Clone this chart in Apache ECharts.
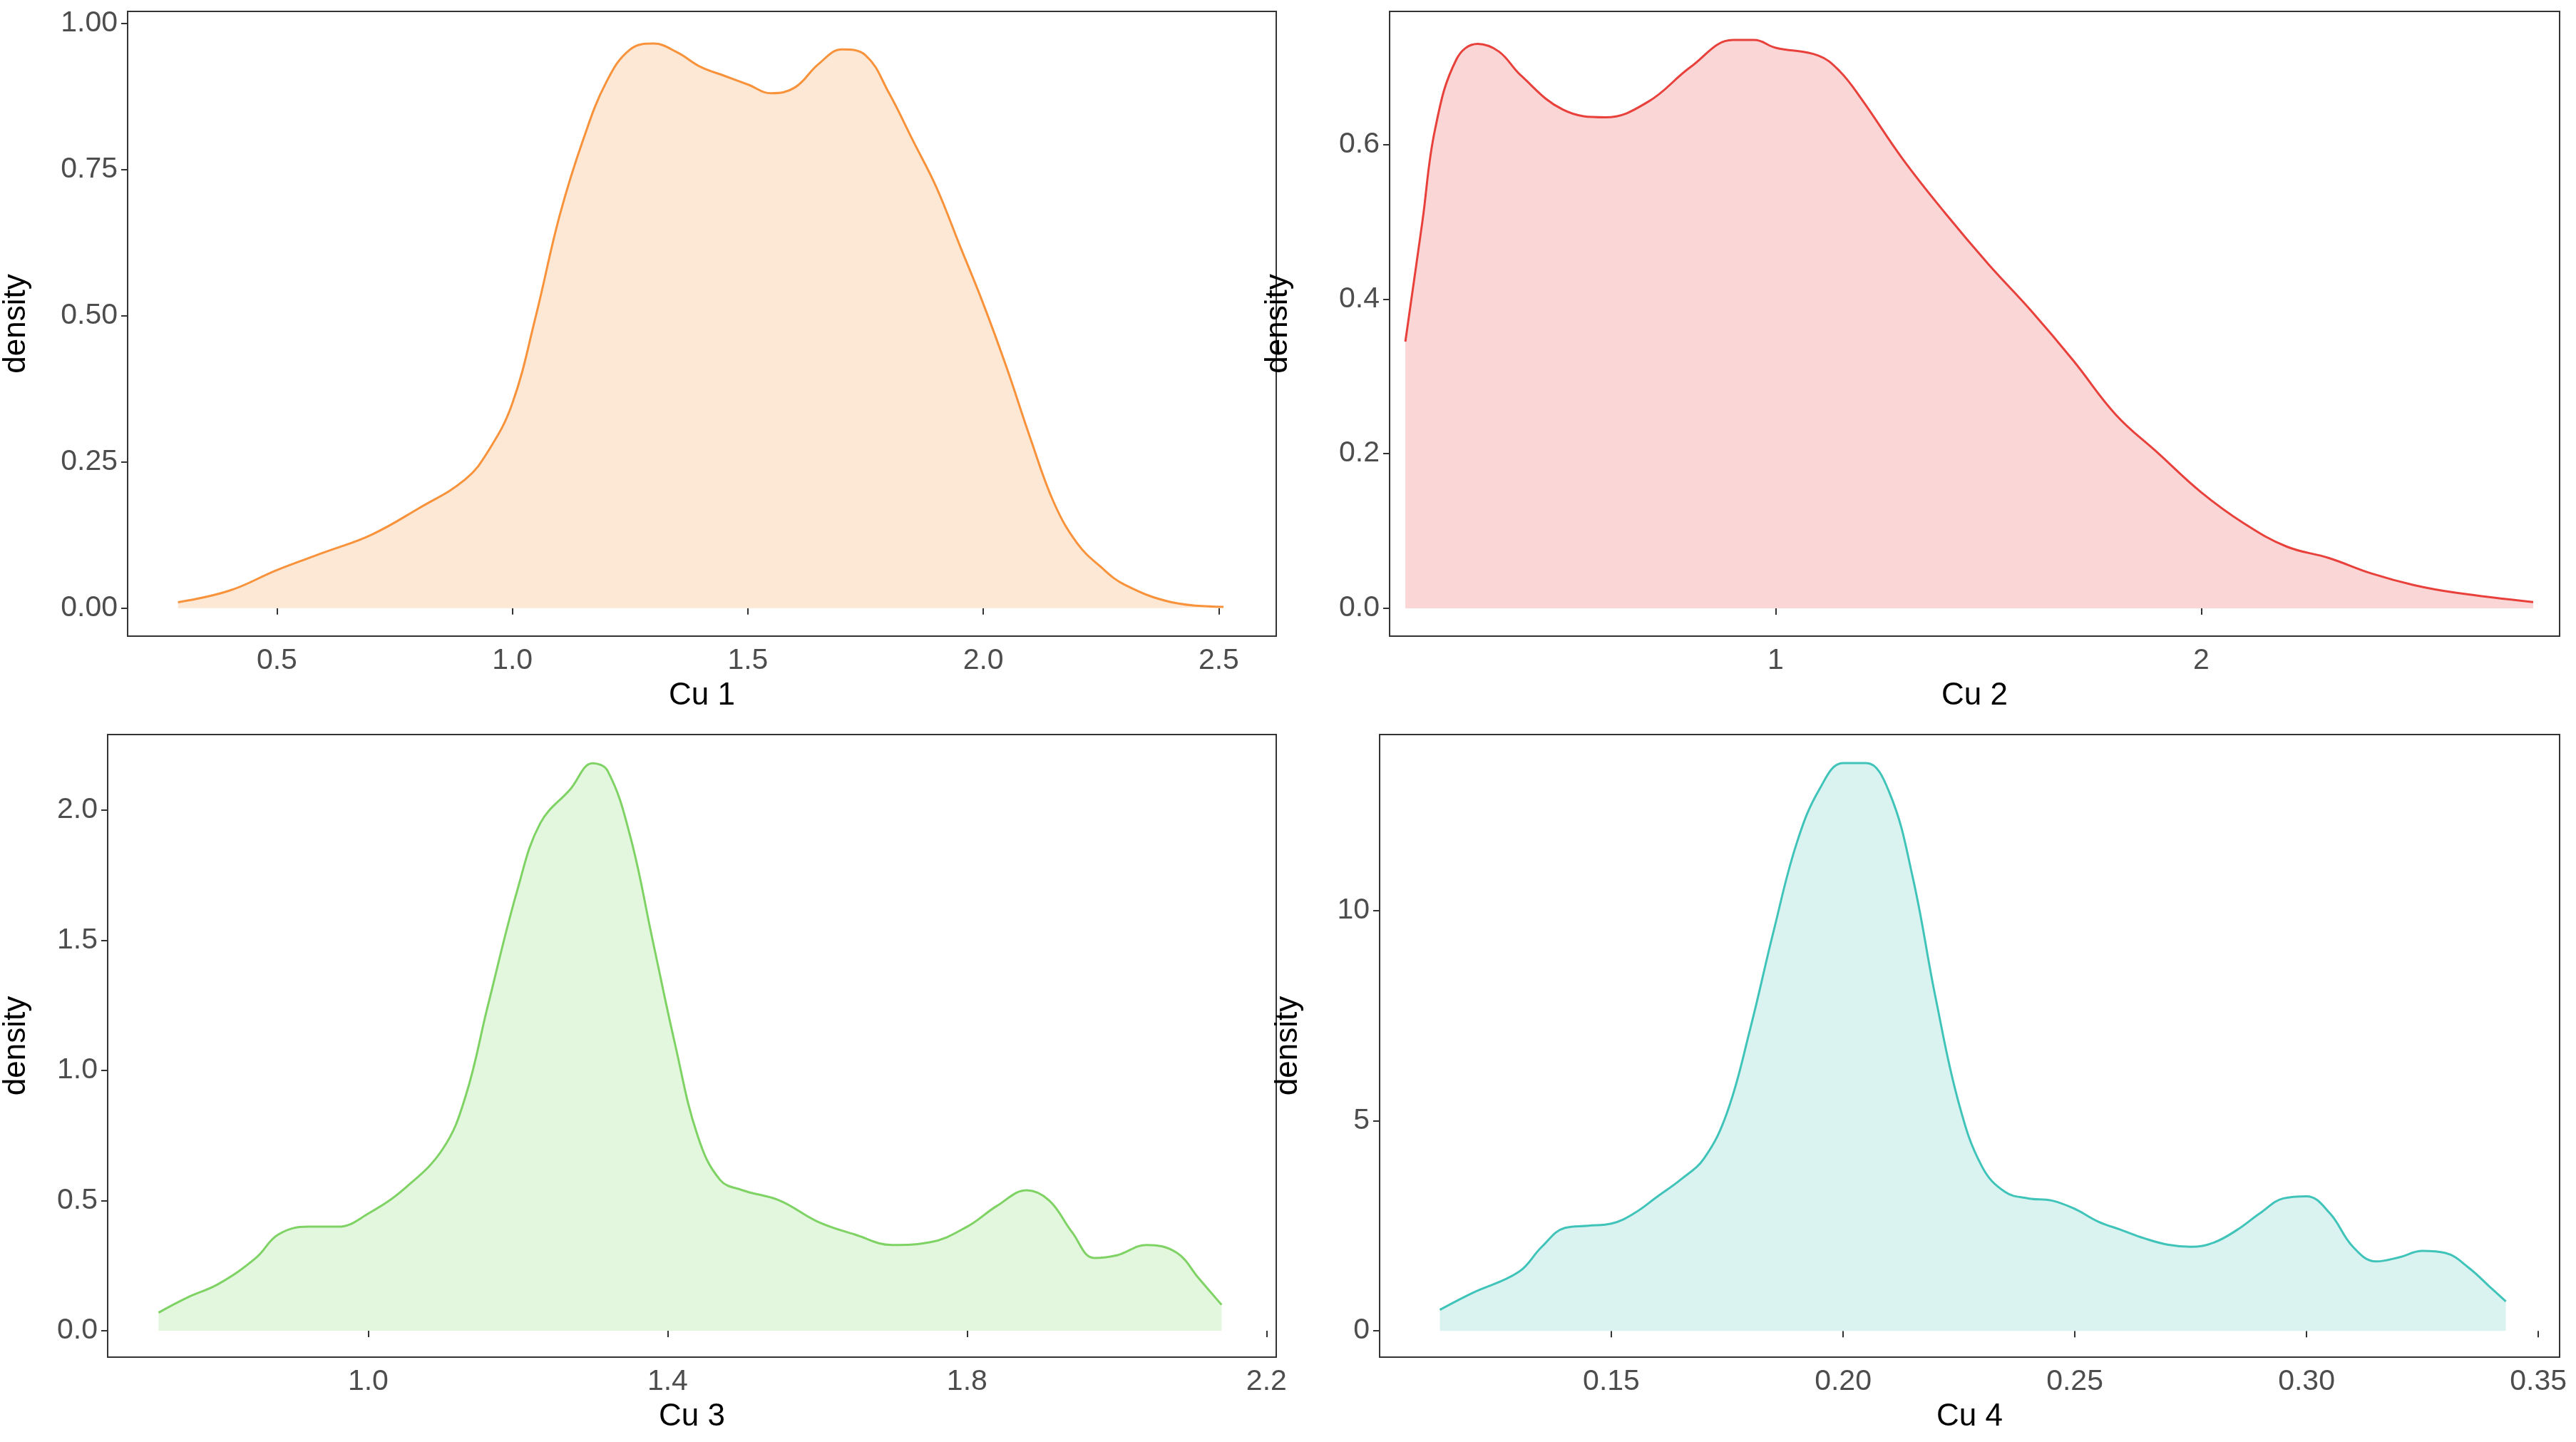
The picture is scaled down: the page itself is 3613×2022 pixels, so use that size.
<!DOCTYPE html>
<html><head><meta charset="utf-8">
<script src="https://cdn.jsdelivr.net/npm/echarts@6/dist/echarts.min.js"></script>
<style>html,body{margin:0;padding:0;background:#fff}#c{width:3613px;height:2022px}</style>
</head><body><div id="c"></div>
<script>
const cu1 = [[0.29,0.01],[0.4,0.03],[0.5,0.065],[0.6,0.095],[0.7,0.125],[0.8,0.17],[0.9,0.22],[0.95,0.27],[1.0,0.35],[1.05,0.5],[1.1,0.67],[1.15,0.8],[1.2,0.9],[1.25,0.955],[1.3,0.965],[1.35,0.95],[1.4,0.925],[1.45,0.91],[1.5,0.895],[1.55,0.88],[1.6,0.89],[1.65,0.93],[1.7,0.955],[1.75,0.945],[1.8,0.88],[1.85,0.8],[1.9,0.72],[1.95,0.62],[2.0,0.52],[2.05,0.41],[2.1,0.29],[2.15,0.18],[2.2,0.11],[2.25,0.07],[2.3,0.04],[2.4,0.01],[2.51,0.002]];
const cu2 = [[0.13,0.345],[0.17,0.5],[0.2,0.62],[0.25,0.71],[0.3,0.73],[0.35,0.72],[0.4,0.69],[0.5,0.645],[0.6,0.635],[0.7,0.655],[0.8,0.7],[0.9,0.735],[0.95,0.735],[1.0,0.725],[1.1,0.715],[1.15,0.695],[1.2,0.66],[1.3,0.58],[1.4,0.51],[1.5,0.445],[1.6,0.385],[1.7,0.32],[1.8,0.25],[1.9,0.2],[2.0,0.15],[2.1,0.11],[2.2,0.08],[2.3,0.065],[2.4,0.045],[2.5,0.03],[2.6,0.02],[2.78,0.008]];
const cu3 = [[0.72,0.07],[0.76,0.13],[0.8,0.18],[0.85,0.28],[0.88,0.37],[0.92,0.4],[0.96,0.4],[1.0,0.45],[1.05,0.55],[1.1,0.7],[1.13,0.9],[1.16,1.25],[1.2,1.7],[1.23,1.95],[1.27,2.08],[1.3,2.18],[1.32,2.15],[1.35,1.9],[1.38,1.5],[1.41,1.1],[1.44,0.75],[1.47,0.58],[1.5,0.54],[1.55,0.5],[1.6,0.42],[1.65,0.37],[1.7,0.33],[1.75,0.34],[1.8,0.4],[1.84,0.48],[1.88,0.54],[1.91,0.5],[1.94,0.38],[1.97,0.28],[2.0,0.29],[2.04,0.33],[2.08,0.3],[2.11,0.2],[2.14,0.1]];
const cu4 = [[0.113,0.5],[0.12,0.9],[0.13,1.4],[0.135,2.0],[0.14,2.45],[0.145,2.5],[0.15,2.55],[0.155,2.8],[0.16,3.2],[0.165,3.6],[0.17,4.1],[0.175,5.2],[0.18,7.2],[0.185,9.5],[0.19,11.6],[0.195,12.9],[0.2,13.5],[0.205,13.5],[0.21,12.8],[0.215,10.8],[0.22,7.9],[0.225,5.4],[0.23,3.9],[0.235,3.3],[0.24,3.15],[0.245,3.1],[0.25,2.9],[0.255,2.6],[0.26,2.4],[0.265,2.2],[0.27,2.05],[0.275,2.0],[0.28,2.1],[0.285,2.4],[0.29,2.8],[0.295,3.15],[0.3,3.2],[0.305,2.8],[0.31,2.0],[0.315,1.65],[0.32,1.75],[0.325,1.9],[0.33,1.85],[0.335,1.5],[0.34,1.0],[0.343,0.7]];
const xTicks = [[0.5,1.0,1.5,2.0,2.5],[1,2],[1.0,1.4,1.8,2.2],[0.15,0.20,0.25,0.30,0.35]];
const yTicks = [[0,0.25,0.5,0.75,1.0],[0,0.2,0.4,0.6],[0,0.5,1.0,1.5,2.0],[0,5,10]];
const xLabels = [["0.5","1.0","1.5","2.0","2.5"],["1","2"],["1.0","1.4","1.8","2.2"],["0.15","0.20","0.25","0.30","0.35"]];
const yLabels = [["0.00","0.25","0.50","0.75","1.00"],["0.0","0.2","0.4","0.6"],["0.0","0.5","1.0","1.5","2.0"],["0","5","10"]];
const names = ["Cu 1","Cu 2","Cu 3","Cu 4"];
const seriesData = [cu1,cu2,cu3,cu4];
const lineColors = ["#F8923B","#E8413C","#7ED364","#40C4B9"];
const fillColors = ["#FDE8D5","#FAD7D6","#E3F6DE","#DAF3F0"];
const xRange = [[0.183,2.622],[0.093,2.842],[0.652,2.213],[0.1,0.3546]];
const yRange = [[-0.048,1.02],[-0.036,0.772],[-0.101,2.29],[-0.625,14.18]];
const grids = [
 {left:175,top:16,width:1615,height:876},
 {left:1949,top:16,width:1641,height:876},
 {left:147,top:1030,width:1643,height:873},
 {left:1935,top:1030,width:1655,height:873}];
const yGap=[134,134,106,106];
const ff='Liberation Sans, Arial, sans-serif';
const opt={animation:false,grid:[],xAxis:[],yAxis:[],series:[]};
for(let i=0;i<4;i++){
 opt.grid.push(Object.assign({show:true,borderColor:'#333',borderWidth:2,backgroundColor:'#fff'},grids[i]));
 const lx=xLabels[i], ly=yLabels[i];
 opt.xAxis.push({type:'value',gridIndex:i,min:xRange[i][0],max:xRange[i][1],
  name:names[i],nameLocation:'middle',nameGap:62,nameTextStyle:{fontSize:44,color:'#000',fontFamily:ff},
  axisLine:{show:false},splitLine:{show:false},
  axisTick:{show:true,length:9,lineStyle:{color:'#333',width:2},customValues:xTicks[i]},
  axisLabel:{fontSize:41,color:'#4d4d4d',fontFamily:ff,margin:14,customValues:xTicks[i],
   formatter:v=>{const k=xTicks[i].findIndex(t=>Math.abs(t-v)<1e-9);return k>=0?lx[k]:'';}}});
 opt.yAxis.push({type:'value',gridIndex:i,min:yRange[i][0],max:yRange[i][1],
  name:'density',nameLocation:'middle',nameGap:yGap[i],nameTextStyle:{fontSize:44,color:'#000',fontFamily:ff},
  axisLine:{show:false},splitLine:{show:false},
  axisTick:{show:true,length:9,lineStyle:{color:'#333',width:2},customValues:yTicks[i]},
  axisLabel:{fontSize:41,color:'#4d4d4d',fontFamily:ff,margin:14,customValues:yTicks[i],
   formatter:v=>{const k=yTicks[i].findIndex(t=>Math.abs(t-v)<1e-9);return k>=0?ly[k]:'';}}});
 opt.series.push({type:'line',xAxisIndex:i,yAxisIndex:i,data:seriesData[i],smooth:0.4,symbol:'none',
  lineStyle:{color:lineColors[i],width:3},areaStyle:{color:fillColors[i],opacity:1,origin:0}});
}
echarts.init(document.getElementById('c')).setOption(opt);
</script></body></html>
